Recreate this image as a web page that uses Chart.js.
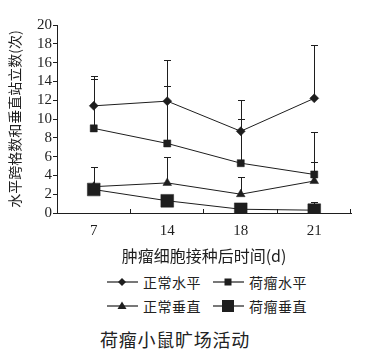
<!DOCTYPE html>
<html>
<head>
<meta charset="utf-8">
<script src="https://cdn.jsdelivr.net/npm/chart.js@4/dist/chart.umd.min.js"></script>
<style>
  html, body { margin: 0; padding: 0; background: #fff; }
  #wrap { position: relative; width: 366px; height: 359px; overflow: hidden; }
  #chartBox { position: absolute; left: 0; top: 0; width: 366px; height: 270px; }
  .leg { position: absolute; font-family: "Noto Sans CJK SC", sans-serif; font-size: 14px; color: #222; line-height: 18px; display: flex; align-items: center; letter-spacing: 0.5px; }
  .leg svg { margin-right: 5px; }
  #caption { position: absolute; left: 100px; top: 327px; font-family: "Noto Sans CJK SC", sans-serif; font-size: 18px; line-height: 24px; color: #222; letter-spacing: 0.75px; }
</style>
</head>
<body>
<div id="wrap">
  <div id="chartBox"><canvas id="c"></canvas></div>
  <div id="legend"></div>
  <div id="caption">荷瘤小鼠旷场活动</div>
</div>
<script>
const categories = ["7", "14", "18", "21"];
const seriesNames = ["正常水平", "荷瘤水平", "正常垂直", "荷瘤垂直"];

const normalHoriz = [11.4, 11.9, 8.7, 12.2];
const tumorHoriz = [9.0, 7.4, 5.3, 4.1];
const normalVert = [2.8, 3.2, 2.0, 3.4];
const tumorVert = [2.5, 1.3, 0.4, 0.3];

// upper ends of the error bars (mean + SD)
const normalHorizUpper = [14.6, 16.3, 12.0, 17.9];
const tumorHorizUpper = [14.3, 13.5, 10.0, 8.6];
const normalVertUpper = [4.9, 6.0, 3.8, 5.4];
const tumorVertUpper = [4.9, null, null, 1.2];

const yTicks = [0, 2, 4, 6, 8, 10, 12, 14, 16, 18, 20];

const INK = "#1e1e1e";
const serif = "'Liberation Serif', 'DejaVu Serif', serif";
const cjk = "'Noto Sans CJK SC', sans-serif";

const markers = [
    { pointStyle: "rectRot", radius: 4.5 },
    { pointStyle: "rect", radius: 5 },
    { pointStyle: "triangle", radius: 5 },
    { pointStyle: "rect", radius: 9 },
];
const uppers = [normalHorizUpper, tumorHorizUpper, normalVertUpper, tumorVertUpper];

// error bars + inward x tick marks
const extras = {
    id: "extras",
    beforeDatasetsDraw(chart) {
        const { ctx, scales: { x, y } } = chart;
        ctx.save();
        ctx.strokeStyle = INK;
        ctx.lineWidth = 1;
        chart.data.datasets.forEach((ds, i) => {
            const up = uppers[i];
            ds.data.forEach((v, j) => {
                if (up[j] == null) return;
                const px = Math.round(x.getPixelForValue(j)) + 0.5;
                const y0 = y.getPixelForValue(v);
                const y1 = Math.round(y.getPixelForValue(up[j])) + 0.5;
                ctx.beginPath();
                ctx.moveTo(px, y0);
                ctx.lineTo(px, y1);
                ctx.moveTo(px - 3.5, y1);
                ctx.lineTo(px + 3.5, y1);
                ctx.stroke();
            });
        });
        ctx.restore();
    },
    afterDraw(chart) {
        const { ctx, scales: { x }, chartArea } = chart;
        ctx.save();
        ctx.strokeStyle = INK;
        ctx.lineWidth = 1;
        for (let i = 1; i <= categories.length; i++) {
            const bx = i < categories.length
                ? (x.getPixelForValue(i - 1) + x.getPixelForValue(i)) / 2
                : chartArea.right;
            const px = Math.round(bx) - 0.5;
            ctx.beginPath();
            ctx.moveTo(px, chartArea.bottom);
            ctx.lineTo(px, chartArea.bottom - 4);
            ctx.stroke();
        }
        ctx.restore();
    }
};

const seriesData = [normalHoriz, tumorHoriz, normalVert, tumorVert];

new Chart(document.getElementById("c"), {
    type: "line",
    data: {
        labels: categories,
        datasets: seriesData.map((d, i) => ({
            label: seriesNames[i],
            data: d,
            borderColor: INK,
            borderWidth: 1,
            backgroundColor: INK,
            pointBackgroundColor: INK,
            pointBorderColor: INK,
            pointBorderWidth: 0.5,
            pointStyle: markers[i].pointStyle,
            pointRadius: markers[i].radius,
            tension: 0,
            fill: false,
        })),
    },
    options: {
        responsive: true,
        maintainAspectRatio: false,
        animation: false,
        events: [],
        layout: { padding: { top: 25, right: 15, left: 0, bottom: 0 } },
        plugins: { legend: { display: false }, tooltip: { enabled: false } },
        scales: {
            x: {
                type: "category",
                offset: true,
                grid: { display: true, offset: true, drawOnChartArea: false, drawTicks: false },
                border: { display: true, color: INK, width: 1 },
                ticks: { color: INK, font: { family: serif, size: 15 }, padding: 9, maxRotation: 0, autoSkip: false },
                title: {
                    display: true,
                    text: "肿瘤细胞接种后时间(d)",
                    color: INK,
                    font: { family: cjk, size: 16 },
                    padding: { top: 2, bottom: 4 },
                },
                afterFit(s) { s.height = 57; },
            },
            y: {
                min: 0,
                max: 20,
                afterBuildTicks(s) { s.ticks = yTicks.map((v) => ({ value: v })); },
                grid: { drawOnChartArea: false, drawTicks: true, tickLength: 4, color: INK },
                border: { display: true, color: INK, width: 1 },
                ticks: { color: INK, font: { family: serif, size: 15 }, padding: 1, autoSkip: false },
                title: {
                    display: true,
                    text: "水平跨格数和垂直站立数(次)",
                    color: INK,
                    font: { family: cjk, size: 14 },
                    padding: { top: 6, bottom: 0 },
                },
                afterFit(s) { s.width = 57; },
            },
        },
    },
    plugins: [extras],
});

// legend below the chart: line + marker icons
function icon(style) {
    let m = "";
    if (style === 0) m = '<polygon points="15,3 19,7 15,11 11,7" fill="' + INK + '"/>';
    if (style === 1) m = '<rect x="11.5" y="3.5" width="7" height="7" fill="' + INK + '"/>';
    if (style === 2) m = '<polygon points="15,2.5 19.5,10 10.5,10" fill="' + INK + '"/>';
    if (style === 3) m = '<rect x="9" y="1" width="12" height="12" fill="' + INK + '"/>';
    return '<svg width="31" height="14" viewBox="0 0 31 14"><line x1="0" y1="7" x2="31" y2="7" stroke="' + INK + '" stroke-width="1.2"/>' + m + '</svg>';
}
const legendEl = document.getElementById("legend");
const legPos = [[107, 273], [213, 273], [107, 297], [213, 297]];
seriesNames.forEach((name, i) => {
    const el = document.createElement("div");
    el.className = "leg";
    el.style.left = legPos[i][0] + "px";
    el.style.top = legPos[i][1] + "px";
    el.innerHTML = icon(i) + "<span>" + name + "</span>";
    legendEl.appendChild(el);
});
</script>
</body>
</html>
